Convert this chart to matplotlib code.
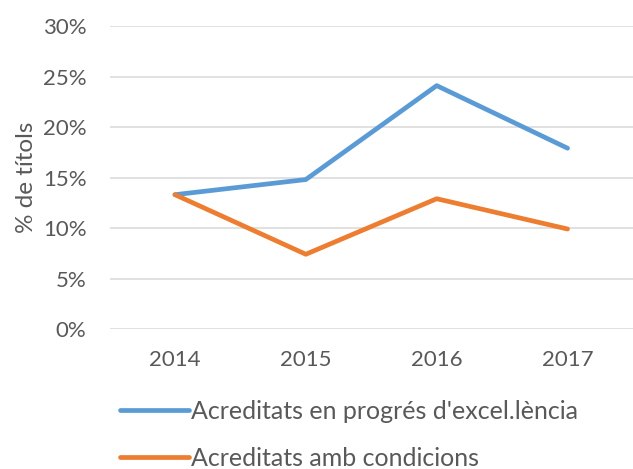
import matplotlib.pyplot as plt
from matplotlib.ticker import PercentFormatter, MultipleLocator

# dades llegides del gràfic
anys = ["2014", "2015", "2016", "2017"]
excel_lencia = [13.3, 14.8, 24.1, 17.9]
condicions = [13.3, 7.4, 12.9, 9.9]
etiquetes = ["Acreditats en progrés d'excel.lència", "Acreditats amb condicions"]

plt.rcParams['font.family'] = ['Lato', 'DejaVu Sans']
gris_text = "#595959"

fig = plt.figure(figsize=(6.33, 4.69), dpi=100)
ax = fig.add_axes([0.173, 0.2985, 0.827, 0.646])

x = range(len(anys))
ax.plot(x, excel_lencia, color="#5B9BD5", lw=3.4, solid_capstyle="round",
        solid_joinstyle="round", label=etiquetes[0])
ax.plot(x, condicions, color="#ED7D31", lw=3.4, solid_capstyle="round",
        solid_joinstyle="round", label=etiquetes[1])

ax.set_xlim(-0.5, len(anys) - 0.5)
ax.set_ylim(0, 30)
ax.yaxis.set_major_locator(MultipleLocator(5))
ax.yaxis.set_major_formatter(PercentFormatter(decimals=0))
ax.set_xticks(list(x))
ax.set_xticklabels(anys)
ax.grid(axis="y", color="#D9D9D9", lw=1.1)
ax.set_axisbelow(True)
for s in ax.spines.values():
    s.set_visible(False)
ax.tick_params(length=0, labelsize=16, labelcolor=gris_text)
ax.tick_params(axis="y", pad=16.5)
ax.tick_params(axis="x", pad=15)
ax.set_ylabel("% de títols", fontsize=17.5, color=gris_text, labelpad=4)

# llegenda a sota del gràfic
fig.legend(loc="center left", bbox_to_anchor=(0.19, 0.073), bbox_transform=fig.transFigure,
           frameon=False, fontsize=18, labelcolor=gris_text, handlelength=2.75,
           handletextpad=0.08, labelspacing=0.95, borderaxespad=0, borderpad=0)

fig.savefig("out.png", dpi=100)
